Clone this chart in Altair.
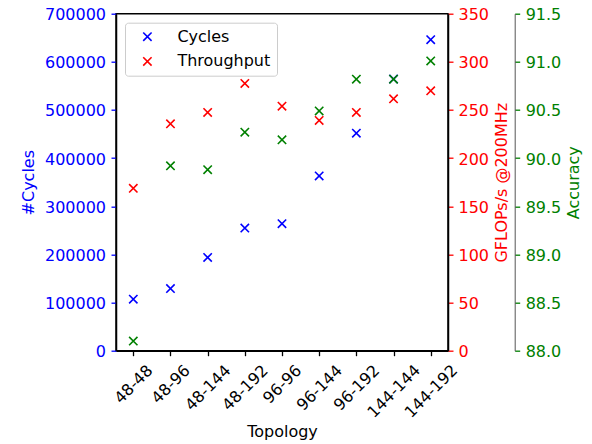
import altair as alt
import pandas as pd

topology = ["48-48", "48-96", "48-144", "48-192", "96-96", "96-144", "96-192", "144-144", "144-192"]
cycles = [106900, 129100, 193600, 254700, 263700, 362900, 451800, 564200, 646100]
throughput = [168.6, 235.6, 247.4, 277.6, 254.0, 239.1, 247.4, 261.6, 269.9]
accuracy = [88.10, 89.92, 89.88, 90.27, 90.19, 90.49, 90.82, 90.82, 91.01]

cycle_ticks = [0, 100000, 200000, 300000, 400000, 500000, 600000, 700000]
tp_ticks = [0, 50, 100, 150, 200, 250, 300, 350]
acc_ticks = [88.0, 88.5, 89.0, 89.5, 90.0, 90.5, 91.0, 91.5]

df = pd.DataFrame({"Topology": topology, "Cycles": cycles,
                   "Throughput": throughput, "Accuracy": accuracy})

XPATH = "M-1,-1L1,1M-1,1L1,-1"
FONT = "DejaVu Sans"
BLUE, RED, GREEN = "#0000ff", "#ff0000", "#008000"
FS = 16

x = alt.X(
    "Topology:N", sort=topology,
    scale=alt.Scale(type="point", padding=0.465),
    axis=alt.Axis(
        title="Topology", labelAngle=315, labelAlign="center", labelBaseline="middle",
        labelPadding={"condition": [
            {"test": "length(datum.value) <= 5", "value": 28.3},
            {"test": "length(datum.value) == 6", "value": 31.8}], "value": 35.3},
        tickSize=5, tickColor="black", domainColor="black", labelColor="black",
        titleColor="black", titleX=166, titleY=86.3, titleBaseline="alphabetic",
        titleAlign="center", labelFontSize=FS, titleFontSize=FS,
        titleFontWeight="normal", labelFont=FONT, titleFont=FONT,
        grid=False, labelOverlap=False, domainWidth=1.5, tickWidth=1.3),
)

mk = dict(shape=XPATH, filled=False, size=70, strokeWidth=1.6, opacity=1)

color = alt.Color(
    "series:N",
    scale=alt.Scale(domain=["Cycles", "Throughput"], range=[BLUE, RED]),
    legend=alt.Legend(
        orient="none", legendX=9, legendY=9, title=None,
        symbolType=XPATH, symbolSize=70, symbolStrokeWidth=1.6,
        labelFontSize=FS, labelFont=FONT, labelColor="black",
        padding=6, rowPadding=8.7, symbolOffset=8.4, labelOffset=22,
        strokeColor="#cccccc", fillColor="white", cornerRadius=3,
    ),
)


def yaxis(**kw):
    common = dict(tickSize=5, titleY=168.5, titleAngle=270, titleBaseline="alphabetic",
                  titleAlign="center", grid=False, labelFontSize=FS, titleFontSize=FS,
                  titleFontWeight="normal", labelFont=FONT, titleFont=FONT,
                  labelBaseline="alphabetic", labelOffset=6.0, labelFlush=False,
                  labelOverlap=False, domainWidth=1.5, tickWidth=1.3)
    common.update(kw)
    return alt.Axis(**common)


base = alt.Chart(df)

l1 = base.transform_calculate(series="'Cycles'").mark_point(**mk).encode(
    x=x,
    y=alt.Y("Cycles:Q", scale=alt.Scale(domain=[0, 700000], nice=False),
            axis=yaxis(orient="left", values=cycle_ticks, format="d",
                       title="#Cycles", titleColor=BLUE, labelColor=BLUE,
                       tickColor=BLUE, domainColor="black",
                       labelPadding=5.5, titleX=-82.5)),
    color=color,
)

l2 = base.transform_calculate(series="'Throughput'").mark_point(**mk).encode(
    x=x,
    y=alt.Y("Throughput:Q", scale=alt.Scale(domain=[0, 350], nice=False),
            axis=yaxis(orient="right", values=tp_ticks, format="d",
                       title="GFLOPs/s @200MHz", titleColor=RED, labelColor=RED,
                       tickColor=RED, domainColor="black",
                       labelPadding=5, titleX=58.5)),
    color=color,
)

l3 = base.mark_point(**mk).encode(
    x=x,
    y=alt.Y("Accuracy:Q", scale=alt.Scale(domain=[88, 91.5], nice=False, zero=False),
            axis=yaxis(orient="right", offset=66.7, values=acc_ticks, format=".1f",
                       title="Accuracy", titleColor=GREEN, labelColor=GREEN,
                       tickColor=GREEN, domainColor="#555555", domainWidth=1,
                       labelPadding=5.5, titleX=63.7)),
    color=alt.value(GREEN),
)

chart = alt.layer(l1, l2, l3).resolve_scale(y="independent").properties(
    width=332, height=337,
    padding={"left": 108, "top": 5.7, "right": 136, "bottom": 92},
    autosize=alt.AutoSizeParams(type="none"),
).configure(font=FONT).configure_view(stroke="black", strokeWidth=1.5)

chart.save("out.html", embed_options={"renderer": "svg", "actions": False})
